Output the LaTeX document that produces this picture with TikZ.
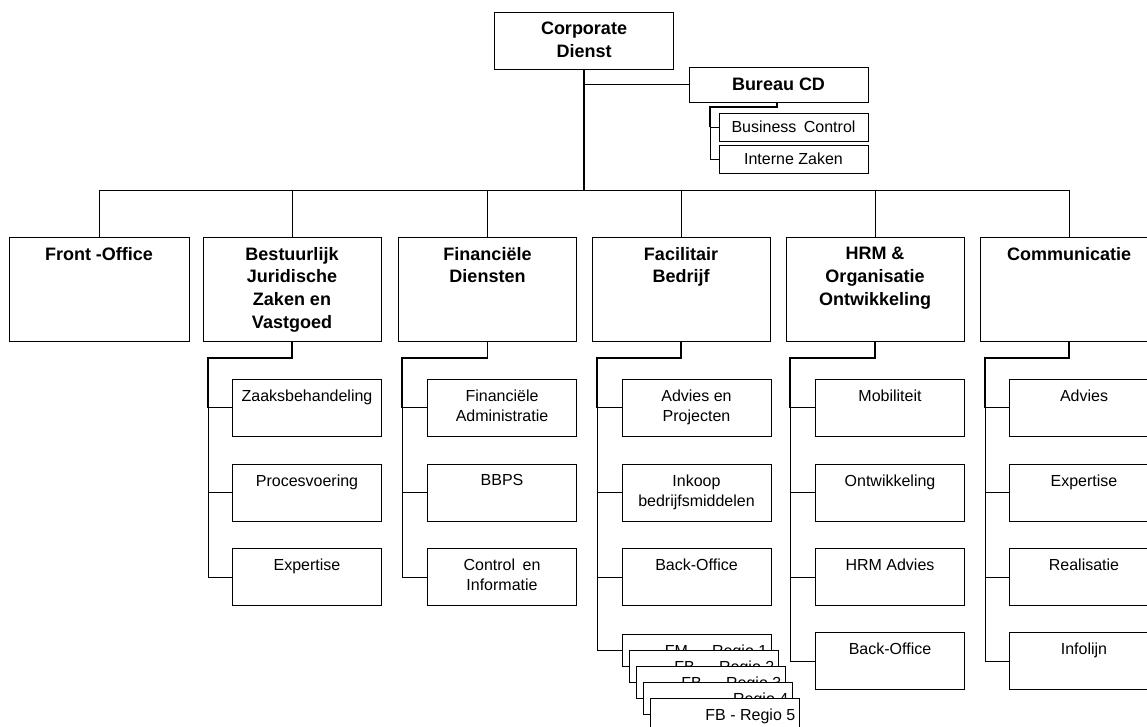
\documentclass[tikz,border=0pt]{standalone}
\usepackage{fontspec}
\setmainfont{Liberation Sans}
\newcommand\orgheadfont{\fontsize{18}{22.7}\selectfont\bfseries}
\newcommand\orgbodyfont{\fontsize{16}{20}\selectfont}
\begin{document}
\begin{tikzpicture}[x=1pt,y=-1pt,
  box/.style={draw=black, line width=0.9pt, fill=white, inner sep=0pt},
  unitbox/.style={box, minimum width=178pt, minimum height=104pt},
  subbox/.style={box, minimum width=149pt, minimum height=57pt},
  smallbox/.style={box, minimum width=149pt, minimum height=28pt, font=\orgbodyfont},
  regiobox/.style={box, minimum width=149pt, minimum height=32pt},
  headtext/.style={anchor=north, yshift=-10.5pt, align=center, inner sep=0pt, font=\orgheadfont},
  subtext/.style={anchor=north, yshift=-11pt, align=center, inner sep=0pt, font=\orgbodyfont},
  regiotext/.style={anchor=base east, xshift=-4pt, yshift=-6.5pt, inner sep=0pt, font=\orgbodyfont},
  link/.style={line width=0.9pt},
  heavy/.style={line width=1.8pt},
]
\useasboundingbox (0,0) rectangle (1147,727);
\clip (0,0) rectangle (1147,727);

% top level
\node[box, minimum width=179pt, minimum height=57pt,
      label={[headtext]north:{Corporate\\Dienst}}] (cd) at (584,40.5) {};
\node[box, minimum width=179pt, minimum height=35pt, font=\orgheadfont] (bcd) at (778.5,84.5) {Bureau CD};
\node[smallbox] (bc) at (793.5,127) {Business\hspace{3pt} Control};
\node[smallbox] (iz) at (793.5,159) {Interne Zaken};

% departments
\node[unitbox, minimum width=180pt, label={[headtext]north:{Front -Office}}] (fo) at (99,289) {};
\node[unitbox, label={[headtext]north:{Bestuurlijk\\Juridische\\Zaken en\\Vastgoed}}] (bjz) at (292,289) {};
\node[unitbox, label={[headtext]north:{Financiële\\Diensten}}] (fd) at (487.5,289) {};
\node[unitbox, label={[headtext]north:{Facilitair\\Bedrijf}}] (fac) at (681,289) {};
\node[unitbox, label={[headtext]north:{HRM \&\\Organisatie\\Ontwikkeling}}] (hrm) at (875,289) {};
\node[unitbox, label={[headtext]north:{Communicatie}}] (com) at (1069,289) {};

% Bestuurlijk Juridische Zaken en Vastgoed
\node[subbox, label={[subtext]north:{Zaaksbehandeling}}] (bjz1) at (307,407.5) {};
\node[subbox, label={[subtext]north:{Procesvoering}}] (bjz2) at (307,492.5) {};
\node[subbox, label={[subtext]north:{Expertise}}] (bjz3) at (307,577) {};

% Financiele Diensten
\node[subbox, label={[subtext]north:{Financiële\\Administratie}}] (fd1) at (502,407.5) {};
\node[subbox, label={[subtext]north:{BBPS}}] (fd2) at (502,492.5) {};
\node[subbox, label={[subtext]north:{Control\hspace{3pt} en\\Informatie}}] (fd3) at (502,577) {};

% Facilitair Bedrijf, with the stacked regional offices
\node[subbox, label={[subtext]north:{Advies en\\Projecten}}] (fac1) at (696.5,407.5) {};
\node[subbox, label={[subtext]north:{Inkoop\\bedrijfsmiddelen}}] (fac2) at (696.5,492.5) {};
\node[subbox, label={[subtext]north:{Back-Office}}] (fac3) at (696.5,577) {};
\node[regiobox, label={[regiotext]east:{FM\hspace{5pt} - \hspace{5pt}Regio 1}}] (r1) at (696.5,650) {};
\node[regiobox, label={[regiotext]east:{FB\hspace{5pt} - \hspace{5pt}Regio 2}}] (r2) at (703.5,666) {};
\node[regiobox, label={[regiotext]east:{FB\hspace{5pt} - \hspace{5pt}Regio 3}}] (r3) at (710.5,682) {};
\node[regiobox, label={[regiotext]east:{Regio 4}}] (r4) at (717.5,698) {};
\node[regiobox, label={[regiotext]east:{FB - Regio 5}}] (r5) at (724.5,714) {};

% HRM & Organisatie Ontwikkeling
\node[subbox, label={[subtext]north:{Mobiliteit}}] (hrm1) at (890,407.5) {};
\node[subbox, label={[subtext]north:{Ontwikkeling}}] (hrm2) at (890,492.5) {};
\node[subbox, label={[subtext]north:{HRM Advies}}] (hrm3) at (890,577) {};
\node[subbox, label={[subtext]north:{Back-Office}}] (hrm4) at (890,661) {};

% Communicatie
\node[subbox, label={[subtext]north:{Advies}}] (com1) at (1084,407.5) {};
\node[subbox, label={[subtext]north:{Expertise}}] (com2) at (1084,492.5) {};
\node[subbox, label={[subtext]north:{Realisatie}}] (com3) at (1084,577) {};
\node[subbox, label={[subtext]north:{Infolijn}}] (com4) at (1084,661) {};

% junction points
\coordinate (bus) at (584,190);
\coordinate (bcdj) at (710,107);
\coordinate (bjzj) at (208,358);
\coordinate (fdj) at (402,358);
\coordinate (facj) at (597,358);
\coordinate (hrmj) at (790,358);
\coordinate (comj) at (985,358);

% trunk and bus
\draw[heavy] (cd.south) -- (bus);
\draw[link] (bcd.west) -- (bcd.west -| cd.south);
\draw[link] (fo.north) -- (fo.north |- bus) -- (com.north |- bus) -- (com.north);
\foreach \n in {bjz,fd,fac,hrm}
  \draw[link] (\n.north) -- (\n.north |- bus);

% Bureau CD
\draw[heavy] (bcd.south -| 777,0) |- (bcdj) -- (bcdj |- bc.west);
\draw[link] (bcdj |- bc.west) -- (bcdj |- iz.west);
\foreach \n in {bc,iz}
  \draw[link] (bcdj |- \n.west) -- (\n.west);

% department branches
\draw[heavy] (bjz.south) |- (bjzj) -- (bjzj |- bjz1.west);
\draw[link] (bjzj |- bjz1.west) -- (bjzj |- bjz3.west);
\foreach \n in {bjz1,bjz2,bjz3}
  \draw[link] (bjzj |- \n.west) -- (\n.west);

\draw[heavy] (fd.south) |- (fdj) -- (fdj |- fd1.west);
\draw[link] (fdj |- fd1.west) -- (fdj |- fd3.west);
\foreach \n in {fd1,fd2,fd3}
  \draw[link] (fdj |- \n.west) -- (\n.west);

\draw[heavy] (fac.south) |- (facj) -- (facj |- fac1.west);
\draw[link] (facj |- fac1.west) -- (facj |- r1.west);
\foreach \n in {fac1,fac2,fac3,r1}
  \draw[link] (facj |- \n.west) -- (\n.west);

\draw[heavy] (hrm.south) |- (hrmj) -- (hrmj |- hrm1.west);
\draw[link] (hrmj |- hrm1.west) -- (hrmj |- hrm4.west);
\foreach \n in {hrm1,hrm2,hrm3,hrm4}
  \draw[link] (hrmj |- \n.west) -- (\n.west);

\draw[heavy] (com.south) |- (comj) -- (comj |- com1.west);
\draw[link] (comj |- com1.west) -- (comj |- com4.west);
\foreach \n in {com1,com2,com3,com4}
  \draw[link] (comj |- \n.west) -- (\n.west);
\end{tikzpicture}
\end{document}
